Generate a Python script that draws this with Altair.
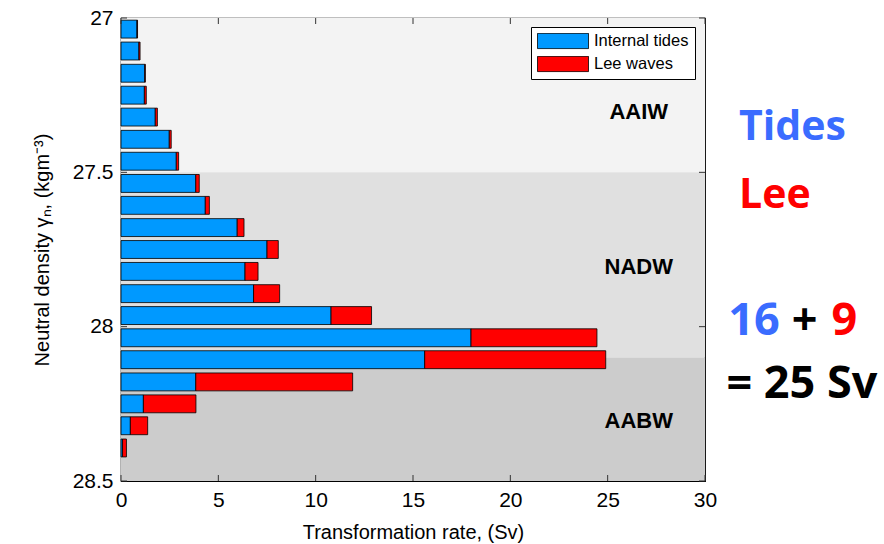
import altair as alt
import pandas as pd

# ---- data ----
density = [27.036, 27.107, 27.179, 27.250, 27.321, 27.393, 27.464, 27.536, 27.607, 27.679,
           27.750, 27.821, 27.893, 27.964, 28.036, 28.107, 28.179, 28.250, 28.321, 28.393]
tides = [0.82, 0.92, 1.22, 1.20, 1.76, 2.48, 2.84, 3.84, 4.33, 5.97,
         7.50, 6.37, 6.81, 10.79, 17.98, 15.60, 3.84, 1.15, 0.48, 0.08]
lee = [0.03, 0.06, 0.03, 0.10, 0.11, 0.10, 0.12, 0.18, 0.21, 0.35,
       0.58, 0.67, 1.34, 2.08, 6.47, 9.30, 8.06, 2.70, 0.89, 0.20]
series = ["Internal tides", "Lee waves"]
colors = ["#0099ff", "#ff0000"]

band_names = ["AAIW", "NADW", "AABW"]
band_top = [27.0, 27.5, 28.1]
band_bot = [27.5, 28.1, 28.5]
band_colors = ["#f3f3f3", "#e0e0e0", "#cccccc"]
band_label_x = [26.6, 26.6, 26.6]
band_label_y = [27.305, 27.807, 28.305]

x_ticks = [0, 5, 10, 15, 20, 25, 30]
y_ticks = [27, 27.5, 28, 28.5]

# annotation texts on the right
ann_text = ["Tides", "Lee", "16", "+", "9", "= 25 Sv"]
ann_x = [31.75, 31.75, 31.2, 34.45, 36.5, 31.1]
ann_y = [27.395, 27.615, 28.027, 28.027, 28.027, 28.231]
ann_size = [41, 41, 45, 45, 45, 45]
ann_color = ["#3a6cff", "#ff0000", "#3a6cff", "#000000", "#ff0000", "#000000"]

HALF = 0.029  # half bar thickness in density units

rows = []
for d, t, l in zip(density, tides, lee):
    rows.append({"d": d, "series": series[0], "x0": 0.0, "x1": t})
    rows.append({"d": d, "series": series[1], "x0": t, "x1": t + l})
bars_df = pd.DataFrame(rows)

bands_df = pd.DataFrame({"name": band_names, "top": band_top, "bot": band_bot,
                         "color": band_colors, "lx": band_label_x, "ly": band_label_y})
ann_df = pd.DataFrame({"text": ann_text, "x": ann_x, "y": ann_y, "size": ann_size,
                       "color": ann_color})

FONT = "Liberation Sans"
xscale = alt.Scale(domain=[0, 30], nice=False, zero=False)
yscale = alt.Scale(domain=[27, 28.5], reverse=True, nice=False, zero=False)

x_axis = alt.Axis(values=x_ticks, title="Transformation rate, (Sv)", ticks=False, grid=False,
                  labelFont=FONT, labelFontSize=21, labelColor="black", labelPadding=8,
                  titleFont=FONT, titleFontSize=20, titleFontWeight="normal", titleColor="black",
                  titlePadding=12, domainColor="black", labelFlush=False, labelOverlap=False)
y_axis = alt.Axis(values=y_ticks, title="Neutral density γₙ, (kgm⁻³)", ticks=False, grid=False,
                  labelFont=FONT, labelFontSize=21, labelColor="black", labelPadding=8,
                  titleFont=FONT, titleFontSize=20, titleFontWeight="normal", titleColor="black",
                  titlePadding=20, domainColor="black", labelFlush=False, labelOverlap=False,
                  format="~g")

bands = alt.Chart(bands_df).mark_rect().encode(
    x=alt.value(0), x2=alt.value(584),
    y=alt.Y("top:Q", scale=yscale, axis=y_axis),
    y2="bot:Q",
    color=alt.Color("color:N", scale=None),
)

bars = alt.Chart(bars_df).transform_calculate(
    ytop="datum.d - %f" % HALF, ybot="datum.d + %f" % HALF
).mark_bar(stroke="black", strokeWidth=0.8, opacity=1).encode(
    x=alt.X("x0:Q", scale=xscale, axis=x_axis),
    x2="x1:Q",
    y=alt.Y("ytop:Q", scale=yscale),
    y2="ybot:Q",
    color=alt.Color("series:N", scale=alt.Scale(domain=series, range=colors),
                    legend=alt.Legend(orient="none", legendX=410, legendY=9, title=None,
                                      symbolType="M-1,-0.3H1V0.3H-1Z", symbolSize=2601,
                                      symbolStrokeColor="black", symbolStrokeWidth=0.8,
                                      symbolOpacity=1,
                                      labelFont=FONT, labelFontSize=16.5, labelColor="black",
                                      labelOffset=5, fillColor="white", strokeColor="black",
                                      padding=6, rowPadding=6, clipHeight=16)),
)

band_labels = alt.Chart(bands_df).mark_text(font=FONT, fontSize=22, fontWeight="bold",
                                            color="black", align="center", baseline="middle").encode(
    x=alt.X("lx:Q", scale=xscale), y=alt.Y("ly:Q", scale=yscale), text="name:N")

# inward ticks (MATLAB style) on all four sides
xt_df = pd.DataFrame({"v": x_ticks})
yt_df = pd.DataFrame({"v": y_ticks})
tick_style = dict(color="#333333", strokeWidth=1)
xt_bottom = alt.Chart(xt_df).mark_rule(**tick_style).encode(
    x=alt.X("v:Q", scale=xscale), y=alt.value(463), y2=alt.value(457))
xt_top = alt.Chart(xt_df).mark_rule(**tick_style).encode(
    x=alt.X("v:Q", scale=xscale), y=alt.value(0), y2=alt.value(6))
yt_left = alt.Chart(yt_df).mark_rule(**tick_style).encode(
    y=alt.Y("v:Q", scale=yscale), x=alt.value(0), x2=alt.value(6))
yt_right = alt.Chart(yt_df).mark_rule(**tick_style).encode(
    y=alt.Y("v:Q", scale=yscale), x=alt.value(584), x2=alt.value(578))

ann = alt.Chart(ann_df).mark_text(font="Open Sans", fontWeight="bold",
                                  align="left", baseline="alphabetic", clip=False).encode(
    x=alt.X("x:Q", scale=xscale), y=alt.Y("y:Q", scale=yscale),
    text="text:N", size=alt.Size("size:Q", scale=None),
    color=alt.Color("color:N", scale=None))

chart = alt.layer(bands, bars, band_labels, xt_bottom, xt_top, yt_left, yt_right, ann).properties(
    width=584, height=463,
    autosize=alt.AutoSizeParams(type="none"),
    padding={"left": 121, "top": 18, "right": 179, "bottom": 63},
    background="white",
).configure_view(stroke="black", strokeWidth=1.2)

chart.save("out.html", embed_options={"renderer": "svg", "actions": False})
